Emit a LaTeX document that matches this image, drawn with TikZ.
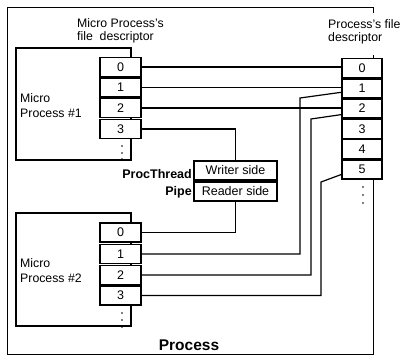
\documentclass[tikz,border=0pt]{standalone}
\usepackage{fontspec}
\setmainfont{Liberation Sans}
\begin{document}
\begin{tikzpicture}[x=1pt,y=-1pt,
  frame/.style={line width=1pt},
  mpbox/.style={line width=1.1pt},
  fdbox/.style={draw, line width=1.5pt, fill=white, minimum width=41pt, minimum height=19pt, inner sep=0pt, font=\fontsize{12.5}{13}\selectfont},
  pipebox/.style={draw, line width=1.3pt, fill=white, minimum width=83pt, minimum height=19pt, inner sep=0pt, font=\fontsize{12.5}{13}\selectfont},
  lbl/.style={inner sep=0pt, align=left, font=\fontsize{12.3}{13}\selectfont},
  blbl/.style={inner sep=0pt, font=\bfseries\fontsize{12.5}{13}\selectfont},
  conn/.style={line width=1.2pt},
  dot/.style={fill=black}]
\useasboundingbox (0,0) rectangle (402,356);
% outer Process frame
\draw[frame] (373,13) -- (373,7) -- (7,7) -- (7,354) -- (373,354) -- (373,55);
% micro process boxes
\draw[mpbox] (16,48) rectangle (131,160);
\draw[mpbox] (16,213) rectangle (131,326);
% labels
\node[lbl, anchor=north west] (mpfd) at (77,18) {Micro Process's\\file\ \ descriptor};
\node[lbl, anchor=north west] (pfd) at (328,19) {Process's file\\descriptor};
\node[lbl, anchor=north west] (mp1) at (20,93) {Micro\\[2pt]Process \#1};
\node[lbl, anchor=north west] (mp2) at (20,258) {Micro\\[2pt]Process \#2};
\node[blbl, anchor=base east] (pt) at (192,178) {ProcThread};
\node[blbl, anchor=base east] (pp) at (192,195) {Pipe};
\node[inner sep=0pt, font=\bfseries\fontsize{15.5}{17}\selectfont, anchor=base] (proc) at (189,350) {Process};
% micro process 1 table
\node[fdbox] (m1r0) at (120.5,67) {0};
\node[fdbox] (m1r1) at (120.5,87.5) {1};
\node[fdbox] (m1r2) at (120.5,108) {2};
\node[fdbox] (m1r3) at (120.5,129) {3};
% micro process 2 table
\node[fdbox] (m2r0) at (120.5,232.5) {0};
\node[fdbox] (m2r1) at (120.5,254) {1};
\node[fdbox] (m2r2) at (120.5,275) {2};
\node[fdbox] (m2r3) at (120.5,295.5) {3};
% process table
\node[fdbox, minimum width=40pt] (pr0) at (362,68) {0};
\node[fdbox, minimum width=40pt] (pr1) at (362,88.3) {1};
\node[fdbox, minimum width=40pt] (pr2) at (362,108.6) {2};
\node[fdbox, minimum width=40pt] (pr3) at (362,128.9) {3};
\node[fdbox, minimum width=40pt] (pr4) at (362,149.2) {4};
\node[fdbox, minimum width=40pt] (pr5) at (362,169.5) {5};
% pipe
\node[pipebox] (writer) at (235.5,170.5) {Writer side};
\node[pipebox] (reader) at (235.5,191.5) {Reader side};
% dots
\foreach \yy in {146,153,159} \fill[dot] (122,\yy) circle (0.9pt);
\foreach \yy in {313,320,327} \fill[dot] (122,\yy) circle (0.9pt);
\foreach \yy in {187,195,203} \fill[dot] (363,\yy) circle (0.9pt);
% bend points
\coordinate (k1) at (300,98);
\coordinate (k2) at (311,119);
\coordinate (k3) at (321,182);
% connectors
\draw[conn] (m1r0.east) -- (m1r0.east -| pr0.west);
\draw[conn] (m1r1.east) -- (m1r1.east -| pr1.west);
\draw[conn] (m1r2.east) -- (m1r2.east -| pr2.west);
\draw[conn] (m1r3.east) -| (writer.north);
\draw[conn] (reader.south) |- (m2r0.east);
\draw[conn] (m2r1.east) -| (k1) -- ([yshift=-4pt]pr1.west);
\draw[conn] (m2r2.east) -| (k2) -- ([yshift=-6pt]pr2.west);
\draw[conn] (m2r3.east) -| (k3) -- ([yshift=-5pt]pr5.west);
\end{tikzpicture}
\end{document}
